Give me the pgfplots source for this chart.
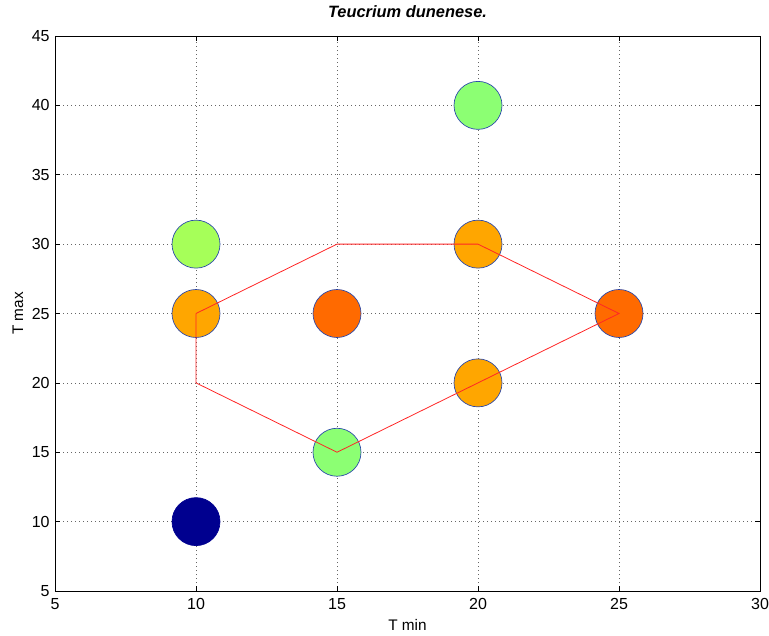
\documentclass[border=0pt]{standalone}
\usepackage{pgfplots}
\pgfplotsset{compat=1.18}
\usepackage{fontspec}
\setmainfont{Liberation Sans}
\definecolor{mnavy}{RGB}{0,0,143}
\definecolor{morange}{RGB}{255,166,0}
\definecolor{mdorange}{RGB}{255,106,0}
\definecolor{mygreen}{RGB}{166,255,89}
\definecolor{mgreen}{RGB}{140,255,115}
\definecolor{medge}{RGB}{40,70,170}
\begin{document}
\begin{tikzpicture}
\begin{axis}[
  name=ax,
  set layers,
  scale only axis,
  width=528.75pt, height=416.25pt,
  xmin=5, xmax=30, ymin=5, ymax=45,
  xtick={5,10,...,30}, ytick={5,10,...,45},
  tick align=inside, tick pos=both,
  major tick length=4pt,
  grid=major,
  grid style={black!60, line width=0.5pt, dash pattern=on 0.6pt off 2.4pt},
  axis line style={black, line width=0.5pt},
  tick style={black, line width=0.5pt},
  /pgf/number format/assume math mode=true,
  ticklabel style={font=\fontsize{12}{14}\selectfont},
  xticklabel style={yshift=-2pt},
  yticklabel style={xshift=-0.5pt},
  xlabel={T min}, ylabel={T max},
  label style={font=\fontsize{11.5}{13}\selectfont},
  xlabel style={at={(axis description cs:0.5,0)}, anchor=center, yshift=-25.5pt},
  ylabel style={at={(axis description cs:0,0.5)}, anchor=center, yshift=27.75pt},
  title={\textbf{\textit{Teucrium dunenese.}}},
  title style={font=\fontsize{12.3}{14}\selectfont, at={(axis description cs:0.5,1)}, anchor=center, yshift=12pt},
  clip=false,
]
\pgfplotsset{every axis plot/.append style={only marks, mark=*, mark size=18pt}}
\addplot[mark options={fill=mnavy, draw=mnavy, line width=0.5pt}] coordinates {(10,10)};
\addplot[mark options={fill=morange, draw=medge, line width=0.5pt}] coordinates {(10,25) (20,20) (20,30)};
\addplot[mark options={fill=mygreen, draw=medge, line width=0.5pt}] coordinates {(10,30)};
\addplot[mark options={fill=mgreen, draw=medge, line width=0.5pt}] coordinates {(15,15) (20,40)};
\addplot[mark options={fill=mdorange, draw=medge, line width=0.5pt}] coordinates {(15,25) (25,25)};
\addplot[on layer=axis foreground, red!85!white, line width=0.6pt, no marks, only marks=false, sharp plot] coordinates {(10,25) (15,30) (20,30) (25,25) (15,15) (10,20) (10,25)};
\end{axis}
\pgfresetboundingbox
\path[use as bounding box] ([xshift=-41.25pt,yshift=-33pt]ax.south west) rectangle ([xshift=6.75pt,yshift=27pt]ax.north east);
\end{tikzpicture}
\end{document}
